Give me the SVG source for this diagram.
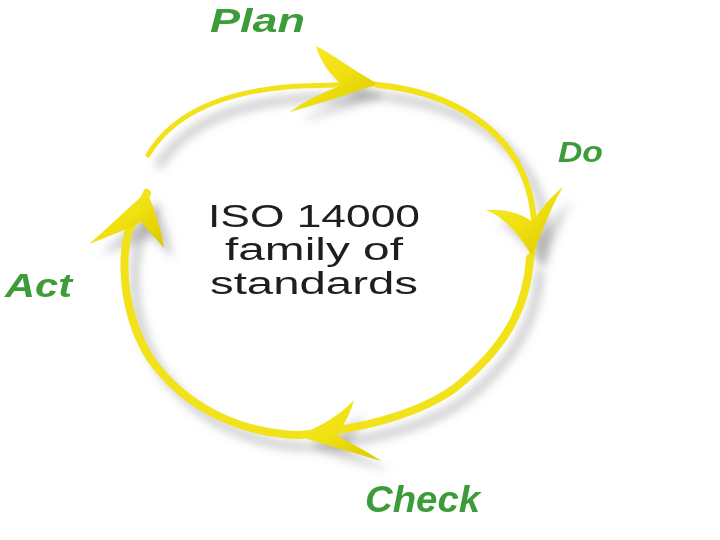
<svg xmlns="http://www.w3.org/2000/svg" width="720" height="540" viewBox="0 0 720 540">
<defs>
<linearGradient id="yel" x1="0" y1="0" x2="1" y2="1">
<stop offset="0" stop-color="#f8ec30"/>
<stop offset="0.5" stop-color="#f0e010"/>
<stop offset="1" stop-color="#d8c800"/>
</linearGradient>
<filter id="blur" x="-20%" y="-20%" width="140%" height="140%">
<feGaussianBlur stdDeviation="5"/>
</filter>
<style>
.arc{fill:none;stroke:#f2e21a;stroke-linecap:round}
.head{fill:url(#yel)}
.sh{fill:none;stroke:#888;stroke-width:8;opacity:0.45}
.shh{fill:#888;opacity:0.45}
.lbl{font-family:"Liberation Sans","DejaVu Sans",sans-serif;font-weight:bold;font-style:italic;fill:#3c9c3a}
.ctr{font-family:"Liberation Sans",Arial,sans-serif;font-size:31px;fill:#1e1e1e}
</style>
</defs>
<rect width="720" height="540" fill="#ffffff"/>
<g id="shadows" filter="url(#blur)">
<path class="sh" d="M158,167 C185,122 240,102 310,98 L385,96"/>
<path class="shh" d="M328,60 C340,70 355,84 388,96 C360,104 330,112 302,122 C315,112 335,104 355,97 C345,87 332,74 328,60 Z"/>
<path class="sh" d="M388,97 C460,105 520,140 540,200 C548,230 545,250 542,265"/>
<path class="shh" d="M498,222 C512,230 528,245 542,267 C552,245 560,220 572,200 C560,210 550,225 542,235 C532,225 515,222 498,222 Z"/>
<path class="sh" d="M540,270 C537,320 515,360 465,400 C430,425 380,440 310,447"/>
<path class="shh" d="M363,414 C350,428 330,440 308,447 C330,455 360,462 390,472 C375,462 355,455 345,447 C352,438 360,425 363,414 Z"/>
<path class="sh" d="M308,447 C250,445 195,420 160,370 C135,330 130,280 138,245 L157,205"/>
<path class="shh" d="M100,255 C120,238 140,218 157,205 C165,225 170,240 173,259 C165,250 158,242 152,237 C140,240 120,248 100,255 Z"/>
</g>
<g id="connectors">
<g id="plan-arrow">
<path class="arc" stroke-width="5" d="M148,155 C175,110 230,90 300,86 L375,84"/>
<path class="head" d="M316,46 C332,54 350,68 378,84 C350,94 320,103 290,112 C305,100 325,92 342,85 C332,76 320,62 316,46 Z"/>
</g>
<g id="do-arrow">
<path class="arc" stroke-width="6" d="M378,85 C450,92 510,128 528,188 C536,215 535,238 532,255"/>
<path class="head" d="M486,210 C502,216 518,232 532,256 C542,233 550,208 563,187 C550,197 540,211 532,222 C522,213 505,209 486,210 Z"/>
</g>
<g id="check-arrow">
<path class="arc" stroke-width="8" d="M530,258 C527,308 505,348 455,388 C420,413 370,428 300,435"/>
<path class="head" d="M354,400 C340,415 320,428 296,435 C320,444 350,451 381,461 C365,450 348,442 337,435 C344,425 351,412 354,400 Z"/>
</g>
<g id="act-arrow">
<path class="arc" stroke-width="8" d="M298,435 C240,433 185,408 150,358 C125,318 120,268 128,233 L147,193"/>
<path class="head" d="M89,244 C110,226 130,206 147,192 C156,213 161,228 164,248 C155,238 148,230 141,222 C130,228 110,236 89,244 Z"/>
</g>
</g>
<g id="center">
<text class="ctr" x="208" y="227" textLength="212" lengthAdjust="spacingAndGlyphs">ISO 14000</text>
<text class="ctr" x="225" y="260" textLength="178" lengthAdjust="spacingAndGlyphs">family of</text>
<text class="ctr" x="210" y="294" textLength="208" lengthAdjust="spacingAndGlyphs">standards</text>
</g>
<g id="plan"><text class="lbl" x="210" y="32" font-size="33" textLength="95" lengthAdjust="spacingAndGlyphs">Plan</text></g>
<g id="do"><text class="lbl" x="558" y="162" font-size="30" textLength="45" lengthAdjust="spacingAndGlyphs">Do</text></g>
<g id="act"><text class="lbl" x="5" y="297" font-size="33" textLength="67" lengthAdjust="spacingAndGlyphs">Act</text></g>
<g id="check"><text class="lbl" x="365" y="512" font-size="36" textLength="115" lengthAdjust="spacingAndGlyphs">Check</text></g>
</svg>
